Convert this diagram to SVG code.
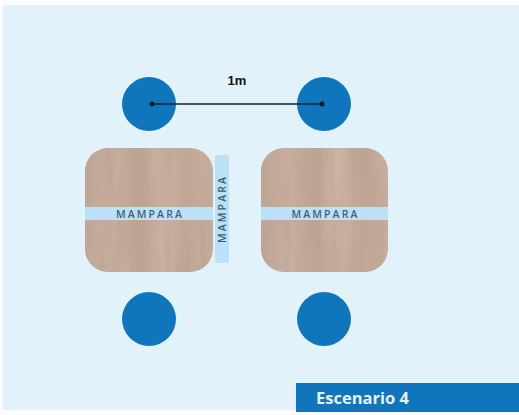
<svg xmlns="http://www.w3.org/2000/svg" width="519" height="415" viewBox="0 0 519 415">
  <defs>
    <linearGradient id="wood" x1="0" y1="0" x2="1" y2="0">
      <stop offset="0" stop-color="#c2a898"/>
      <stop offset="0.25" stop-color="#c7ae9e"/>
      <stop offset="0.45" stop-color="#bfa493"/>
      <stop offset="0.6" stop-color="#cbb3a4"/>
      <stop offset="0.8" stop-color="#c1a695"/>
      <stop offset="1" stop-color="#c8af9f"/>
    </linearGradient>
    <filter id="grain" x="0" y="0" width="100%" height="100%">
      <feTurbulence type="fractalNoise" baseFrequency="0.07 0.008" numOctaves="3" seed="4"/>
      <feColorMatrix type="matrix" values="0 0 0 0 0.45  0 0 0 0 0.32  0 0 0 0 0.24  1.6 0 0 0 -0.62"/>
      <feComposite in2="SourceGraphic" operator="in"/>
    </filter>
    <filter id="soft" x="-5%" y="-5%" width="110%" height="110%"><feGaussianBlur stdDeviation="0.45"/></filter>
  </defs>
  <style>
    .seat { fill: #0f76bd; }
    .table { fill: url(#wood); }
    .grain { fill: #000; filter: url(#grain); opacity: 0.55; }
    .panel { fill: #bbe1f6; }
    .lbl { font-family: "Open Sans", "Noto Sans", sans-serif; font-size: 10.5px; font-weight: 600; letter-spacing: 2.1px; fill: #3f6176; text-anchor: middle; }
    .dot { fill: #0a1a24; }
  </style>
  <rect width="519" height="415" fill="#fbfdfe"/>
  <rect x="3" y="5" width="516" height="405" fill="#e2f2fb"/>
  <g id="seat-top-left"><circle class="seat" cx="149" cy="104" r="27"/></g>
  <g id="seat-top-right"><circle class="seat" cx="324" cy="104" r="27"/></g>
  <g id="seat-bottom-left"><circle class="seat" cx="149" cy="319" r="27"/></g>
  <g id="seat-bottom-right"><circle class="seat" cx="324" cy="319" r="27"/></g>
  <g id="table-left">
    <rect class="table" x="85" y="148" width="128" height="124" rx="23"/>
    <rect class="grain" x="85" y="148" width="128" height="124" rx="23"/>
    <rect class="panel" x="85" y="207" width="128" height="13"/>
    <text class="lbl" x="150" y="218">MAMPARA</text>
  </g>
  <g id="table-right">
    <rect class="table" x="261" y="148" width="127" height="124" rx="23"/>
    <rect class="grain" x="261" y="148" width="127" height="124" rx="23"/>
    <rect class="panel" x="261" y="207" width="127" height="13"/>
    <text class="lbl" x="325.5" y="218">MAMPARA</text>
  </g>
  <g id="screen-middle">
    <rect class="panel" x="215" y="155" width="14" height="108" rx="2"/>
    <text class="lbl" transform="translate(226 209) rotate(-90)">MAMPARA</text>
  </g>
  <g id="connectors">
    <line x1="152" y1="104" x2="322" y2="104" stroke="#16242c" stroke-width="1.6"/>
    <circle class="dot" cx="152" cy="104" r="2.5"/>
    <circle class="dot" cx="322" cy="104" r="2.5"/>
  </g>
  <text x="237" y="85" font-family="'Liberation Sans', Arial, sans-serif" font-size="13" font-weight="700" fill="#111" text-anchor="middle">1m</text>
  <g id="scenario-label">
    <rect x="296" y="383" width="223" height="29" fill="#0f76bd"/>
    <text x="316" y="404" font-family="'Open Sans', 'Noto Sans', sans-serif" font-size="16.5" font-weight="700" fill="#e6f3fb">Escenario 4</text>
  </g>
</svg>
